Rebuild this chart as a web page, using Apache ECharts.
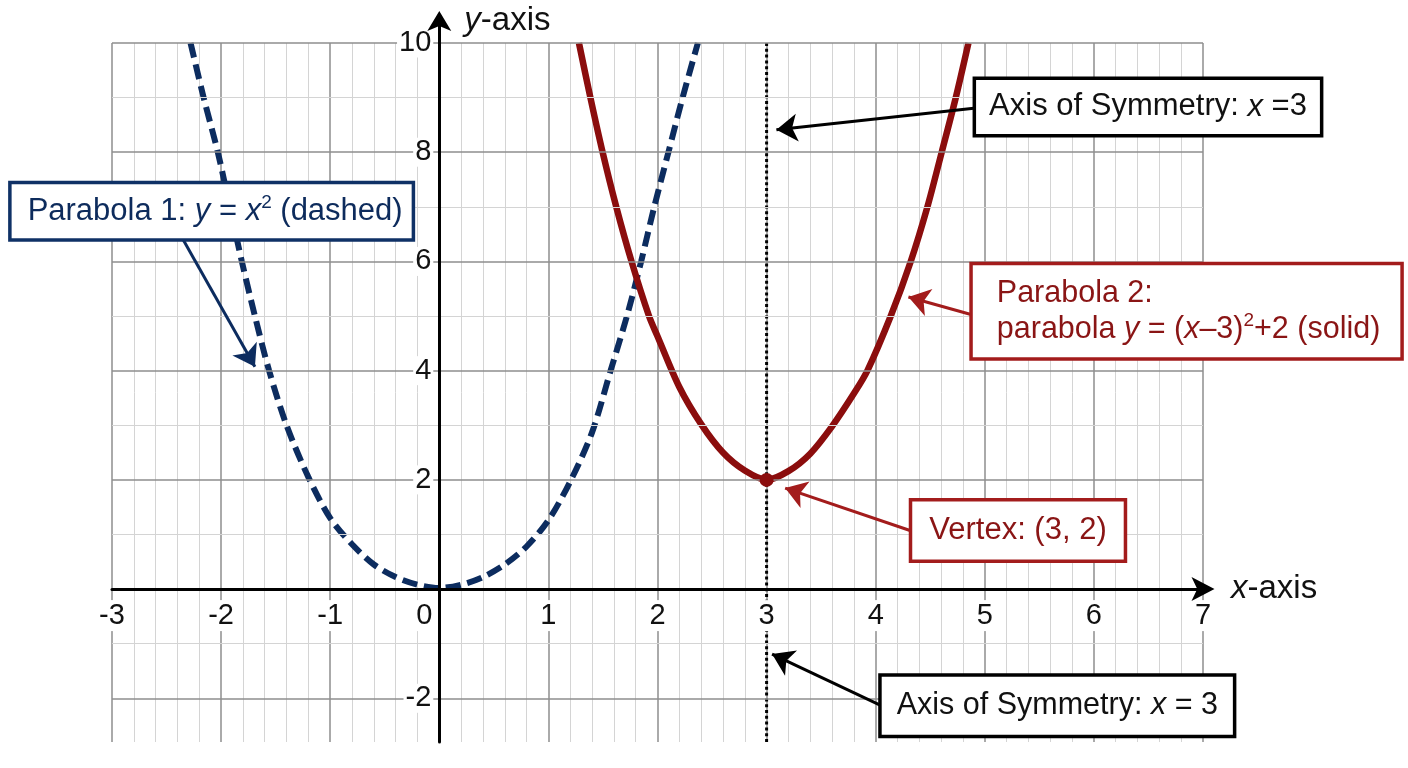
<!DOCTYPE html>
<html><head><meta charset="utf-8">
<script src="https://cdn.jsdelivr.net/npm/echarts@6/dist/echarts.min.js"></script>
<style>html,body{margin:0;padding:0;background:#fff}#c{width:1408px;height:768px}</style>
</head><body><div id="c"></div>
<script>
// ---------- data ----------
const xMin = -3, xMax = 7, yMin = -2.8, yMax = 10;
const xTickLabels = [-3, -2, -1, 0, 1, 2, 3, 4, 5, 6, 7];
const yTickLabels = [-2, 2, 4, 6, 8, 10];
const yGridValues = [-2, -1, 0, 1, 2, 3, 4, 5, 6, 7, 8, 9, 10];

const parabola1X = [-2.28,-2.16,-2.03,-1.92,-1.81,-1.69,-1.56,-1.40,-1.2,-1.0,-0.8,-0.6,-0.4,-0.2,0,0.2,0.4,0.6,0.8,1.0,1.2,1.4,1.57,1.72,1.85,1.97,2.10,2.23,2.37];
const parabola1Y = [10,9,8,7,6,5,4,3,2.05,1.3,0.82,0.45,0.22,0.08,0.02,0.08,0.22,0.45,0.78,1.26,1.97,2.87,4,5,6,7,8,9,10];
const parabola2X = [1.28,1.385,1.497,1.622,1.762,1.922,2.0,2.2,2.4,2.6,2.8,3.0,3.2,3.4,3.6,3.8,3.924,4.138,4.321,4.474,4.605,4.734,4.85];
const parabola2Y = [10,9,8,7,6,5,4.63,3.7,3.02,2.5,2.17,2.0,2.16,2.48,2.98,3.58,4,5,6,7,8,9,10];
const vertexX = [3], vertexY = [2];
const symmetryX = [3, 3], symmetryY = [10, -2.8];

const annotationTexts = [
  'Parabola 1: {i|y} = {i|x}{sup|2} (dashed)',
  'Axis of Symmetry: {i|x} =3',
  'Parabola 2:\nparabola {i|y} = ({i|x}\u20133){sup|2}+2 (solid)',
  'Vertex: (3, 2)',
  'Axis of Symmetry: {i|x} = 3'
];
const annotationAnchorX = [-3.92, 4.92, 4.89, 4.335, 4.055];
const annotationAnchorY = [6.92, 8.83, 5.09, 1.075, -2.135];
const arrowFromX = [-2.345, 4.92, 4.89, 4.335, 4.055];
const arrowFromY = [6.39, 8.81, 5.02, 1.06, -2.14];
const arrowToX = [-1.69, 3.09, 4.30, 3.17, 3.05];
const arrowToY = [4.07, 8.41, 5.35, 1.85, -1.19];

// ---------- styles ----------
const FONT = '"Liberation Sans", Arial, Helvetica, sans-serif';
const NAVY = '#0c2c5f', RED = '#8b0d0d', REDBOX = '#a31c1c', BLACK = '#000';
const MAJOR = '#8e8e8e', MINOR = '#d4d4d4';
const annStyle = [
  {color: '#0d2b5c', border: '#0f3166', fontSize: 31, padding: [9, 9, 9, 16]},
  {color: '#111', border: BLACK, fontSize: 31, padding: [9, 13, 9, 13]},
  {color: '#8a1515', border: REDBOX, fontSize: 30.5, padding: [10, 20, 10, 24]},
  {color: '#8a1515', border: REDBOX, fontSize: 31, padding: [11, 17, 11, 17]},
  {color: '#111', border: BLACK, fontSize: 30.5, padding: [11, 15, 11, 15]}
];
const G = {left: 112, top: 43, width: 1091, height: 699};
const arrowTopPx = 21;
const pxPerX = G.width / (xMax - xMin);
const pxPerY = G.height / (yMax - yMin);
const xAxisOffset = -(0 - yMin) * pxPerY;   // move bottom axis up to y = 0
const yAxisOffset = -(0 - xMin) * pxPerX;   // move left axis right to x = 0

function zip(a, b) { return a.map((v, i) => [v, b[i]]); }
function richFor(s) {
  return {
    i: {fontStyle: 'italic', fontSize: s.fontSize, fontFamily: FONT, color: s.color, lineHeight: 36},
    sup: {fontSize: 19, fontFamily: FONT, color: s.color, lineHeight: 24, verticalAlign: 'top'}
  };
}
function arrowsFor(idx, color) {
  return {
    silent: true, symbol: ['none', 'arrow'], symbolSize: 21,
    label: {show: false},
    lineStyle: {type: 'solid', color: color, width: 3, opacity: 1},
    data: idx.map(i => [{coord: [arrowFromX[i], arrowFromY[i]]}, {coord: [arrowToX[i], arrowToY[i]]}])
  };
}
const axisNameStyle = {fontSize: 33, fontFamily: FONT, color: '#111',
  rich: {i: {fontStyle: 'italic', fontSize: 33, fontFamily: FONT, color: '#111'}}};

const chart = echarts.init(document.getElementById('c'), null, {renderer: 'canvas'});
const option = {
  animation: false,
  backgroundColor: '#fff',
  grid: [
    {left: G.left, top: G.top, width: G.width, height: G.height, outerBoundsMode: 'none', containLabel: false},
    {left: G.left, top: arrowTopPx, width: G.width, height: G.top + G.height - arrowTopPx, outerBoundsMode: 'none', containLabel: false}
  ],
  xAxis: [
    { // vertical grid lines
      gridIndex: 0, type: 'value', min: xMin, max: xMax, interval: 1, position: 'bottom',
      axisLine: {show: false}, axisTick: {show: false}, axisLabel: {show: false},
      splitLine: {show: true, lineStyle: {color: MAJOR, width: 1.5}},
      minorTick: {show: false, splitNumber: 5},
      minorSplitLine: {show: true, lineStyle: {color: MINOR, width: 1}}
    },
    {gridIndex: 1, type: 'value', min: xMin, max: xMax, show: false},
    { // axis line, labels, name at y = 0
      gridIndex: 0, type: 'value', min: xMin, max: xMax, interval: 1, position: 'bottom',
      offset: xAxisOffset, z: 8,
      axisLine: {show: true, onZero: false, lineStyle: {color: BLACK, width: 3}, symbol: ['none', 'arrow'], symbolSize: [18, 23], symbolOffset: [0, 11.5]},
      axisTick: {show: false},
      axisLabel: {
        margin: 11,
        formatter: v => xTickLabels.indexOf(v) < 0 ? '' : (v === 0 ? '{n|0}{g| }' : '{n|' + v + '}'),
        rich: {
          n: {fontSize: 29, fontFamily: FONT, color: '#111', backgroundColor: '#fff', padding: [1, 2]},
          g: {width: 30}
        }
      },
      splitLine: {show: false},
      name: '{i|x}-axis', nameLocation: 'end', nameGap: 28, nameTextStyle: axisNameStyle
    }
  ],
  yAxis: [
    { // value axis of the plot
      gridIndex: 0, type: 'value', min: yMin, max: yMax, position: 'left',
      axisLine: {show: false}, axisLabel: {show: false}, axisTick: {show: false}, splitLine: {show: false}
    },
    { // y axis line with arrow and name
      gridIndex: 1, type: 'value', min: 0, max: 1, position: 'left', offset: yAxisOffset, z: 8,
      axisLine: {show: true, onZero: false, lineStyle: {color: BLACK, width: 3}, symbol: ['none', 'arrow'], symbolSize: [18, 20], symbolOffset: [0, 10]},
      axisTick: {show: false}, axisLabel: {show: false}, splitLine: {show: false},
      name: '{i|y}-axis', nameLocation: 'end', nameGap: 0,
      nameTextStyle: Object.assign({}, axisNameStyle, {align: 'left', verticalAlign: 'middle', padding: [0, 0, 0, 25]})
    },
    { // y labels at x = 0
      gridIndex: 0, type: 'value', min: yMin, max: yMax, position: 'left', offset: yAxisOffset, z: 8,
      axisLine: {show: false}, axisTick: {show: false}, splitLine: {show: false},
      axisLabel: {
        customValues: yTickLabels,
        margin: 6, fontSize: 29, fontFamily: FONT, color: '#111',
        backgroundColor: '#fff', padding: [0, 2],
        formatter: v => yTickLabels.indexOf(v) < 0 ? '' : String(v)
      }
    }
  ],
  series: [
    { // horizontal grid lines at y values
      name: 'Grid', type: 'line', xAxisIndex: 0, yAxisIndex: 0, z: 1,
      data: [[xMin, yMin]], symbol: 'none', silent: true, lineStyle: {width: 0},
      markLine: {
        silent: true, symbol: ['none', 'none'], label: {show: false},
        data: yGridValues.map(v => ({yAxis: v, lineStyle: {type: 'solid', color: v % 2 === 0 ? MAJOR : MINOR, width: v % 2 === 0 ? 1.5 : 1.2}}))
      }
    },
    {
      name: 'Axis of Symmetry', type: 'line', xAxisIndex: 0, yAxisIndex: 0,
      data: zip(symmetryX, symmetryY), symbol: 'none', z: 3,
      lineStyle: {color: BLACK, width: 3, type: [3, 2.8]},
      markLine: arrowsFor([1, 4], BLACK)
    },
    {
      name: 'Parabola 1', type: 'line', xAxisIndex: 0, yAxisIndex: 0,
      data: zip(parabola1X, parabola1Y), smooth: 0.3, symbol: 'none', z: 4,
      lineStyle: {color: NAVY, width: 6, type: [15, 7]},
      markLine: arrowsFor([0], NAVY)
    },
    {
      name: 'Parabola 2', type: 'line', xAxisIndex: 0, yAxisIndex: 0,
      data: zip(parabola2X, parabola2Y), smooth: 0.3, symbol: 'none', z: 4,
      lineStyle: {color: RED, width: 6.5},
      markLine: arrowsFor([2, 3], REDBOX)
    },
    {
      name: 'Vertex', type: 'scatter', xAxisIndex: 0, yAxisIndex: 0,
      data: zip(vertexX, vertexY), symbolSize: 14, z: 5,
      itemStyle: {color: RED, opacity: 1}
    },
    {
      name: 'Annotations', type: 'scatter', xAxisIndex: 0, yAxisIndex: 0,
      clip: false, silent: true, symbolSize: 0, z: 10,
      itemStyle: {opacity: 1},
      data: annotationTexts.map((t, i) => {
        const s = annStyle[i];
        return {
          value: [annotationAnchorX[i], annotationAnchorY[i]],
          label: {
            show: true, position: [0, 0], align: 'left', verticalAlign: 'middle',
            formatter: t, fontSize: s.fontSize, fontFamily: FONT, color: s.color, lineHeight: 36,
            backgroundColor: '#fff', borderColor: s.border, borderWidth: 3.5, padding: s.padding,
            opacity: 1, rich: richFor(s)
          }
        };
      })
    }
  ]
};
chart.setOption(option);
</script>
</body></html>
